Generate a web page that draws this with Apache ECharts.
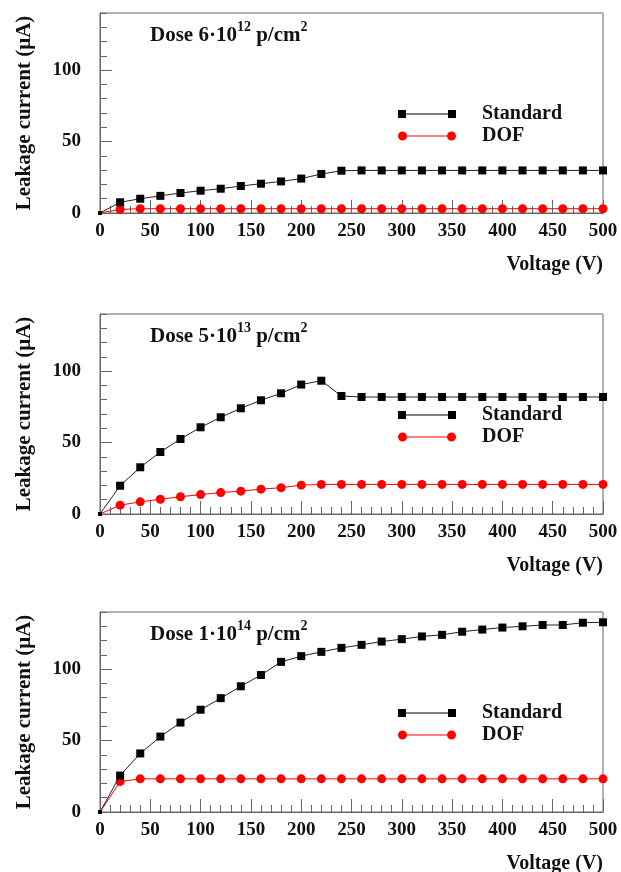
<!DOCTYPE html>
<html>
<head>
<meta charset="utf-8">
<script src="https://cdn.jsdelivr.net/npm/echarts@6/dist/echarts.min.js"></script>
<style>html,body{margin:0;padding:0;background:#fff}#c{width:621px;height:872px}</style>
</head>
<body>
<div id="c"></div>
<script>
var voltage = [0,20,40,60,80,100,120,140,160,180,200,220,240,260,280,300,320,340,360,380,400,420,440,460,480,500];
var xTicks = [0,50,100,150,200,250,300,350,400,450,500];
var yTicks = [0,50,100];
var doseTitles = [
  ['6', '12'],
  ['5', '13'],
  ['1', '14']
];
var std1 = [0,7.5,10,12,14,15.6,17,18.9,20.5,22.1,24.1,27.3,29.6,29.8,29.8,29.8,29.8,29.8,29.8,29.8,29.8,29.8,29.8,29.8,29.8,29.8];
var dof1 = [0,2.5,3.0,3.0,3.0,3.0,3.0,3.0,3.0,3.0,3.0,3.0,3.0,3.0,3.0,3.0,3.0,3.0,3.0,3.0,3.0,3.0,3.0,3.0,3.0,3.0];
var std2 = [0,19.8,32.7,43.4,52.5,60.7,67.7,74,79.6,84.5,90.6,93.3,82.6,81.9,81.9,81.9,81.9,81.9,81.9,81.9,81.9,81.9,81.9,81.9,81.9,81.9];
var dof2 = [0,6.2,8.5,10.3,12.1,13.6,15,16,17.4,18.4,20.2,20.7,20.7,20.7,20.7,20.7,20.7,20.7,20.7,20.7,20.7,20.7,20.7,20.7,20.7,20.7];
var std3 = [0,25.5,41,52.8,62.6,71.6,79.7,88,95.9,105.1,109.1,112.1,114.9,117,119.3,121,122.9,124,126.2,127.7,129.1,130,130.9,130.9,132.5,132.8];
var dof3 = [0,21.3,23.2,23.2,23.2,23.2,23.2,23.2,23.2,23.2,23.2,23.2,23.2,23.2,23.2,23.2,23.2,23.2,23.2,23.2,23.2,23.2,23.2,23.2,23.2,23.2];

var panels = [
  {std: std1, dof: dof1, top: 13},
  {std: std2, dof: dof2, top: 314},
  {std: std3, dof: dof3, top: 612}
];

var FONT = '"Liberation Serif", "DejaVu Serif", serif';
var AX = '#666';
var TXT = '#111';

function pairs(vals) { return voltage.map(function (v, i) { return [v, vals[i]]; }); }

var grids = [], xAxes = [], yAxes = [], series = [], legends = [], titles = [], graphics = [];
panels.forEach(function (p, k) {
  grids.push({left: 100, right: 18, top: p.top, height: 200, show: true, borderColor: AX, borderWidth: 1,
    backgroundColor: 'transparent', containLabel: false, outerBoundsMode: 'none'});
  xAxes.push({
    type: 'value', gridIndex: k, min: 0, max: 500, interval: 50,
    axisLine: {show: true, lineStyle: {color: AX}},
    axisTick: {show: true, inside: true, length: 13, lineStyle: {color: AX}},
    minorTick: {show: true, splitNumber: 5, length: 7, lineStyle: {color: AX}},
    splitLine: {show: false},
    axisLabel: {margin: 9, color: TXT, fontFamily: FONT, fontWeight: 'bold', fontSize: 19,
      formatter: function (v) { return xTicks.indexOf(v) >= 0 ? String(v) : ''; }}
  });
  yAxes.push({
    type: 'value', gridIndex: k, min: 0, max: 140, interval: 50, position: 'left',
    axisLine: {show: true, lineStyle: {color: AX}},
    axisTick: {show: true, inside: true, length: 12, lineStyle: {color: AX}},
    splitLine: {show: false},
    axisLabel: {margin: 19, color: TXT, fontFamily: FONT, fontWeight: 'bold', fontSize: 19, showMaxLabel: false,
      formatter: function (v) { return yTicks.indexOf(v) >= 0 ? String(v) : ''; }},
    name: 'Leakage current (\u03bcA)', nameLocation: 'middle', nameGap: 65,
    nameTextStyle: {color: TXT, fontFamily: FONT, fontWeight: 'bold', fontSize: 21}
  });
  yAxes.push({
    type: 'value', gridIndex: k, min: 0, max: 140, interval: 10, position: 'left', offset: 0,
    axisLine: {show: false},
    axisTick: {show: true, inside: true, length: 7, lineStyle: {color: AX}},
    splitLine: {show: false},
    axisLabel: {show: false}
  });
  var yi = k * 2;
  series.push({
    name: 'Standard', type: 'line', xAxisIndex: k, yAxisIndex: yi, data: pairs(p.std),
    symbol: 'rect', symbolSize: function (v, prm) { return prm.dataIndex === 0 ? 4 : 8; },
    itemStyle: {color: '#000'}, lineStyle: {color: '#222', width: 1}, animation: false, z: 3
  });
  series.push({
    name: 'DOF', type: 'line', xAxisIndex: k, yAxisIndex: yi, data: pairs(p.dof),
    symbol: 'circle', symbolSize: function (v, prm) { return prm.dataIndex === 0 ? 4 : 9; },
    itemStyle: {color: '#ff0000'}, lineStyle: {color: '#ff0000', width: 1}, animation: false, z: 2
  });
  legends.push({
    orient: 'vertical', left: 398, top: p.top + 91, itemGap: 2, itemWidth: 58, itemHeight: 9, padding: 0,
    selectedMode: false,
    textStyle: {color: TXT, fontFamily: FONT, fontWeight: 'bold', fontSize: 20, lineHeight: 18, padding: [0, 0, 0, 21]},
    data: [
      {name: 'Standard', icon: 'path://M0,0.5h8v8h-8z M8,4h42v1h-42z M50,0.5h8v8h-8z'},
      {name: 'DOF', icon: 'path://M9,4.5a4.5,4.5 0 1,1 -9,0a4.5,4.5 0 1,1 9,0z M9,4h40v1h-40z M58,4.5a4.5,4.5 0 1,1 -9,0a4.5,4.5 0 1,1 9,0z'}
    ]
  });
  titles.push({
    left: 150, top: p.top + 7, padding: 0,
    text: '{a|Dose ' + doseTitles[k][0] + '\u00b710}{s|' + doseTitles[k][1] + '}{a| p/cm}{s|2}',
    textStyle: {
      rich: {
        a: {fontFamily: FONT, fontWeight: 'bold', fontSize: 21, color: TXT, lineHeight: 26, verticalAlign: 'bottom'},
        s: {fontFamily: FONT, fontWeight: 'bold', fontSize: 14, color: TXT, lineHeight: 14, verticalAlign: 'top'}
      }
    }
  });
  graphics.push({
    type: 'text', right: 18, top: p.top + 242,
    style: {text: 'Voltage (V)', font: 'bold 20px "Liberation Serif", serif', fill: TXT}
  });
});

var chart = echarts.init(document.getElementById('c'), null, {renderer: 'canvas'});
chart.setOption({
  backgroundColor: '#fff',
  animation: false,
  title: titles,
  legend: legends,
  grid: grids,
  xAxis: xAxes,
  yAxis: yAxes,
  series: series,
  graphic: graphics
});
</script>
</body>
</html>
